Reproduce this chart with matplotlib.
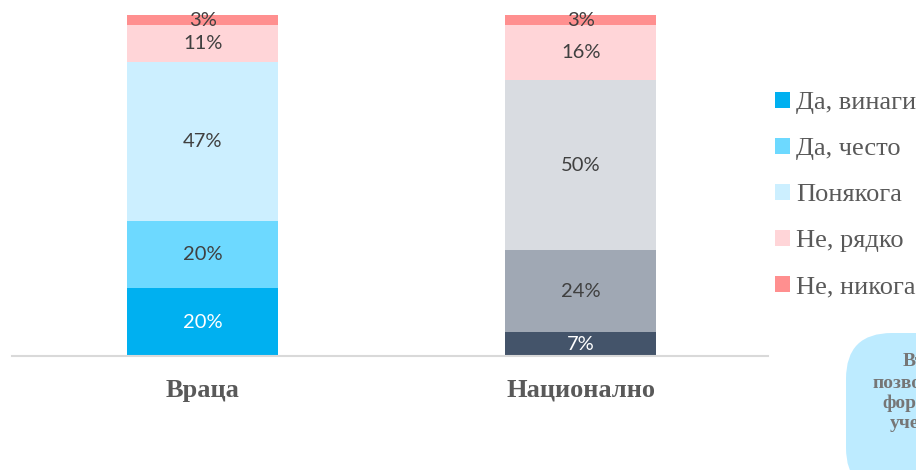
import numpy as np
import matplotlib.pyplot as plt
from matplotlib.patches import Patch, FancyBboxPatch

# ======================== Data ========================
categories = ['Враца', 'Национално']
answers = ['Да, винаги', 'Да, често', 'Понякога', 'Не, рядко', 'Не, никога']
vratsa = [20, 20, 47, 11, 3]
national = [7, 24, 50, 16, 3]

# colours per bar (second bar uses grey shades for the lower segments)
colors_vratsa = ['#00B0F0', '#6DD9FF', '#CCEFFF', '#FFD5D8', '#FF8F8F']
colors_national = ['#44546A', '#A0A8B4', '#D9DCE1', '#FFD5D8', '#FF8F8F']
label_cols = ['white', '#404040', '#404040', '#404040', '#404040']

fig = plt.figure(figsize=(9.16, 4.70), dpi=100)
ax = fig.add_axes([12/916, 1-356/470, (768-12)/916, (356-15)/470])

x = np.arange(len(categories))
series = [vratsa, national]
palettes = [colors_vratsa, colors_national]

for i, vals in enumerate(series):
    vals = np.array(vals, dtype=float)
    share = vals / vals.sum() * 100      # 100% stacked
    bottom = 0
    for j, (v, s) in enumerate(zip(vals, share)):
        ax.bar(x[i] + 0.005, s, bottom=bottom, width=0.4, color=palettes[i][j], lw=0)
        ax.text(x[i] + 0.005, bottom + s/2, f'{int(v)}%', ha='center', va='center',
                fontsize=14.5, family='Lato', color=label_cols[j])
        bottom += s

ax.set_xlim(-0.5, 1.5)
ax.set_ylim(0, 100)
ax.axis('off')
ax.axhline(0, color='#D9D9D9', lw=1.5, clip_on=False)

for i, c in enumerate(categories):
    ax.text(x[i] + 0.005, -10, c, ha='center', va='center', fontsize=19,
            family='Liberation Serif', weight='bold', color='#595959',
            clip_on=False)

# legend
handles = [Patch(facecolor=c, edgecolor='none') for c in colors_vratsa]
fig.legend(handles, answers, loc='upper left', bbox_to_anchor=(775/916, 1-92/470),
           frameon=False, prop={'family': 'Liberation Serif', 'size': 19},
           labelcolor='#595959', handlelength=0.55, handleheight=0.55,
           handletextpad=0.25, labelspacing=0.9, borderpad=0, borderaxespad=0)

# rounded note box, running off the right edge
box = FancyBboxPatch((846/916, -0.05), 0.2, (470-333)/470 + 0.05,
                     boxstyle='round,pad=0,rounding_size=0.05',
                     transform=fig.transFigure, facecolor='#BDEBFF',
                     edgecolor='none', mutation_aspect=916/470)
fig.patches.append(box)
note_lines = [('Въпрос', 903, 362), ('позволява', 873, 383),
              ('формата', 882, 403), ('учениците', 890, 423)]
for t, px, py in note_lines:
    fig.text(px/916, 1-py/470, t, ha='left', va='center', fontsize=14,
             family='Liberation Serif', weight='bold', color='#767676')

fig.savefig('out.png', dpi=100)
